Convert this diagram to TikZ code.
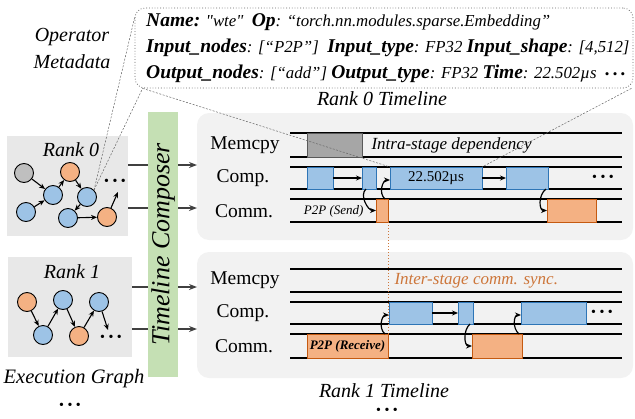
\documentclass[tikz,border=0pt]{standalone}
\usepackage{fontspec}
\setmainfont{Liberation Serif}
\usetikzlibrary{arrows.meta,positioning,calc}
\definecolor{compblue}{RGB}{157,195,230}
\definecolor{compedge}{RGB}{46,117,182}
\definecolor{commorange}{RGB}{244,177,131}
\definecolor{commedge}{RGB}{197,90,17}
\definecolor{memgray}{RGB}{166,166,166}
\definecolor{memedge}{RGB}{89,89,89}
\definecolor{nodegray}{RGB}{191,191,191}
\definecolor{graphbg}{RGB}{232,232,232}
\definecolor{panelbg}{RGB}{242,242,242}
\definecolor{composer}{RGB}{197,224,180}
\definecolor{synctext}{RGB}{205,118,58}
\newcommand{\metakey}[1]{{\bfseries\fontsize{19.5}{22}\selectfont #1}}

\begin{document}
\begin{tikzpicture}[x=1pt,y=-1pt,
	every node/.style={font=\fontsize{19.5}{22}\selectfont},
	opnode/.style={circle,draw,line width=0.9pt,minimum size=19pt,inner sep=0pt},
	gedge/.style={-{Stealth[length=6pt,width=5pt]},line width=1.1pt},
	tbox/.style={draw,line width=0.8pt,anchor=north west,inner sep=0pt,outer sep=0pt},
	compbox/.style={tbox,fill=compblue,draw=compedge},
	commbox/.style={tbox,fill=commorange,draw=commedge},
	membox/.style={tbox,fill=memgray,draw=memedge},
	lane/.style={line width=1.2pt},
	dotsmark/.style={inner sep=0pt,font=\fontsize{14}{14}\selectfont},
	depend/.style={-{Stealth[length=6pt,width=5pt]},line width=1.2pt},
	feed/.style={-{Stealth[length=8pt,width=6pt]},line width=1.5pt,draw=black!75},
	panel/.style={fill=panelbg,rounded corners=12pt,inner sep=0pt,outer sep=0pt},
	metalink/.style={dashed,dash pattern=on 2pt off 1.5pt,line width=0.5pt,draw=black!60},
	]
	\useasboundingbox (0,0) rectangle (635,418);
	
	% Operator metadata
	\node[font=\itshape\fontsize{20}{27}\selectfont,align=center] (oplbl) at (72,48) {Operator\\Metadata};
	\node[draw=black!60,dotted,line width=0.8pt,rounded corners=10pt,minimum width=498pt,minimum height=80pt,inner sep=0pt] (meta) at (384,48) {};
	\begin{scope}[every node/.style={anchor=west,inner sep=0pt,font=\itshape\fontsize{16.8}{22}\selectfont}]
		\node (meta1) at (146,22) {\metakey{Name:} \textquotedbl wte\textquotedbl\ \ \metakey{Op}: “torch.nn.modules.sparse.Embedding”};
		\node (meta2) at (146,48) {\metakey{Input\_nodes}: [“P2P”]\ \ \metakey{Input\_type}: FP32 \metakey{Input\_shape}: [4,512]};
		\node (meta3) at (146,74) {\metakey{Output\_nodes}: [“add”] \metakey{Output\_type}: FP32 \metakey{Time}: 22.502µs\ \ {\upshape\fontsize{13}{13}\selectfont • • •}};
	\end{scope}
	
	% Execution graph, rank 0
	\node[fill=graphbg,minimum width=121pt,minimum height=100pt,inner sep=0pt] (g0) at (67.5,186) {};
	\node[font=\itshape\fontsize{20}{22}\selectfont] (g0lbl) at (71,150) {Rank 0};
	\node[opnode,fill=nodegray] (a0) at (24,173) {};
	\node[opnode,fill=commorange] (a1) at (70,172) {};
	\node[opnode,fill=compblue] (a2) at (53,195) {};
	\node[opnode,fill=compblue] (a3) at (87,197) {};
	\node[opnode,fill=compblue] (a4) at (26,212) {};
	\node[opnode,fill=compblue] (a5) at (68,218) {};
	\node[opnode,fill=commorange] (a6) at (107,217) {};
	\coordinate (a6end) at (118,192);
	\node[dotsmark] (g0dots) at (115,182) {• • •};
	\draw[gedge] (a0) -- (a2);
	\draw[gedge] (a2) -- (a1);
	\draw[gedge] (a1) -- (a3);
	\draw[gedge] (a4) -- (a2);
	\draw[gedge] (a3) -- (a5);
	\draw[gedge] (a5) -- (a6);
	\draw[gedge] (a6) -- (a6end);
	
	% Execution graph, rank 1
	\node[fill=graphbg,minimum width=124pt,minimum height=100pt,inner sep=0pt] (g1) at (70,307) {};
	\node[font=\itshape\fontsize{20}{22}\selectfont] (g1lbl) at (72,272) {Rank 1};
	\node[opnode,fill=commorange] (b0) at (27,302) {};
	\node[opnode,fill=compblue] (b1) at (63,300) {};
	\node[opnode,fill=compblue] (b2) at (43,335) {};
	\node[opnode,fill=commorange] (b3) at (79,336) {};
	\node[opnode,fill=compblue] (b4) at (99,302) {};
	\coordinate (b4end) at (108,330);
	\node[dotsmark] (g1dots) at (111,338) {• • •};
	\draw[gedge] (b0) -- (b2);
	\draw[gedge] (b2) -- (b1);
	\draw[gedge] (b1) -- (b3);
	\draw[gedge] (b3) -- (b4);
	\draw[gedge] (b4) -- (b4end);
	
	\node[font=\itshape\fontsize{20.5}{22}\selectfont] (exlbl) at (74,379) {Execution Graph};
	\node[dotsmark] (exdots) at (70,406) {• • •};
	
	% Timeline panels
	\node[panel,minimum width=436pt,minimum height=127pt] (t0) at (415,176.5) {};
	\node[panel,minimum width=436pt,minimum height=126pt] (t1) at (415,315) {};
	\node[font=\itshape\fontsize{20}{22}\selectfont] (t0lbl) at (382,99) {Rank 0 Timeline};
	\node[font=\itshape\fontsize{20}{22}\selectfont,inner sep=0pt] (t1lbl) at (384,391) {Rank 1 Timeline};
	\node[dotsmark] (t1dots) at (387,411) {• • •};
	
	% Frecce verso le timeline
	\draw[feed] (g0.east |- 0,165) -- (t0.west |- 0,165);
	\draw[feed] (g0.east |- 0,208) -- (t0.west |- 0,208);
	\draw[feed] (g1.east |- 0,287) -- (t1.west |- 0,287);
	\draw[feed] (g1.east |- 0,329) -- (t1.west |- 0,329);
	
	% Timeline composer
	\node[fill=composer,minimum width=30pt,minimum height=265pt,inner sep=0pt] (comp) at (163,244.5) {};
	\node[rotate=90,font=\itshape\fontsize{26}{28}\selectfont] (complbl) at (comp) {Timeline Composer};
	
	% Lanes
	\foreach \y in {133,157,167,189,199,222,269,292,302,324,334,358}
		\draw[lane] (290,\y) -- (622,\y);
	\node (mem0) at (245,145) {Memcpy};
	\node (cmp0) at (243,178) {Comp.};
	\node (com0) at (244,211) {Comm.};
	\node (mem1) at (245,280) {Memcpy};
	\node (cmp1) at (243,313) {Comp.};
	\node (com1) at (244,346) {Comm.};
	
	% Rank 0 kernels
	\node[membox,minimum width=55pt,minimum height=24pt] (m0) at (307,133) {};
	\node[anchor=west,font=\itshape\fontsize{17}{20}\selectfont] (intra) at (368,145) {Intra-stage dependency};
	\node[compbox,minimum width=26pt,minimum height=22pt] (c1) at (307,167) {};
	\node[compbox,minimum width=14pt,minimum height=22pt] (c2) at (362,167) {};
	\node[compbox,minimum width=92pt,minimum height=22pt,font=\fontsize{15}{18}\selectfont] (c3) at (390,167) {22.502µs};
	\node[compbox,minimum width=42pt,minimum height=22pt] (c4) at (506,167) {};
	\node[dotsmark] (c0dots) at (603,178) {• • •};
	\node[commbox,minimum width=12pt,minimum height=23pt] (s1) at (376,199) {};
	\node[commbox,minimum width=49pt,minimum height=23pt] (s2) at (547,199) {};
	\node[anchor=east,font=\itshape\fontsize{13}{15}\selectfont] (sendlbl) at (367,211) {P2P (Send)};
	\draw[depend] (c1) -- (c2);
	\draw[depend] (c3) -- (c4);
	\draw[depend] ([xshift=-3pt]c2.south) .. controls +(-7,6) and +(-8,0) .. (s1.west);
	\draw[depend] ([xshift=3pt]s1.north) .. controls +(-7,-6) and +(-7,0) .. ([yshift=-2pt]c3.west);
	\draw[depend] ([xshift=-2pt]c4.south east) .. controls +(-8,6) and +(-8,0) .. (s2.west);
	
	% Rank 1 kernels
	\node[anchor=west,text=synctext,font=\itshape\fontsize{17}{20}\selectfont] (inter) at (391,281) {Inter-stage comm. sync.};
	\node[compbox,minimum width=43pt,minimum height=22pt] (d1) at (389,302) {};
	\node[compbox,minimum width=15pt,minimum height=22pt] (d2) at (458,302) {};
	\node[compbox,minimum width=65pt,minimum height=22pt] (d3) at (521,302) {};
	\node[dotsmark] (d0dots) at (602,313) {• • •};
	\node[commbox,minimum width=81pt,minimum height=24pt,font=\bfseries\itshape\fontsize{13}{15}\selectfont] (r1) at (307,334) {P2P (Receive)};
	\node[commbox,minimum width=50pt,minimum height=24pt] (e2) at (472,334) {};
	\draw[depend] (d1) -- (d2);
	\draw[depend] ([xshift=-3pt]r1.north east) .. controls +(-7,-6) and +(-7,0) .. ([yshift=-2pt]d1.west);
	\draw[depend] ([xshift=-3pt]d2.south east) .. controls +(-7,6) and +(-8,0) .. (e2.west);
	\draw[depend] ([xshift=-3pt]e2.north east) .. controls +(-7,-6) and +(-7,0) .. ([yshift=-2pt]d3.west);
	
	% Sincronizzazione tra stage
	\draw[synctext,dotted,line width=1pt] (s1.south east) -- (r1.north east);
	
	% Collegamenti ai metadati
	\draw[metalink] (a3.north east) -- ($(meta.north west)+(0,10)$);
	\draw[metalink] (a3.north east) -- ($(meta.south west)+(8,0)$);
	\draw[metalink] ($(meta.south west)+(8,0)$) -- (c3.north west);
	\draw[metalink] ($(meta.south east)+(-2,0)$) -- (c3.north east);
\end{tikzpicture}
\end{document}
